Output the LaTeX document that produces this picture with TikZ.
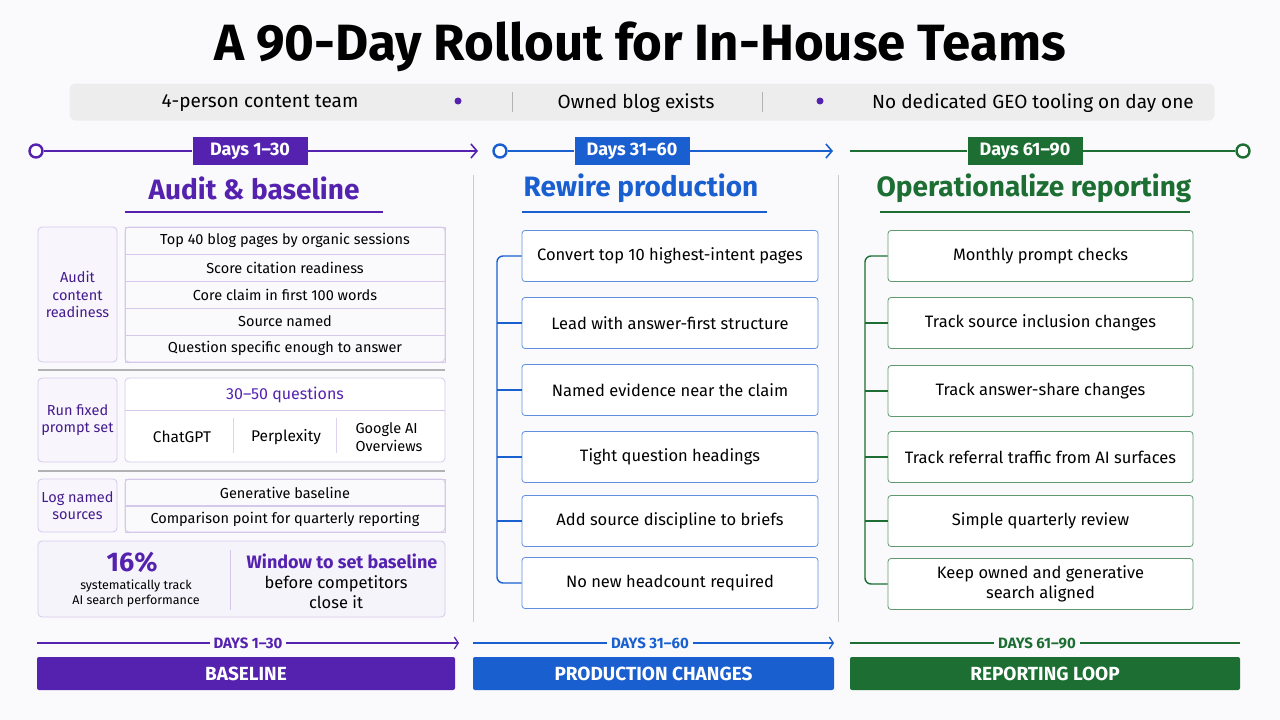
\documentclass[tikz,border=0pt]{standalone}
\usepackage{fontspec}
\setmainfont{Fira Sans}
\usetikzlibrary{arrows.meta, positioning, calc}
\definecolor{purp}{HTML}{5522B0}
\definecolor{blu}{HTML}{1A5FD0}
\definecolor{grn}{HTML}{1C6E32}
\definecolor{bgc}{HTML}{FAFAFC}
\newcommand{\fs}[1]{\fontsize{#1}{\dimexpr#1pt*6/5\relax}\selectfont}

\begin{document}
\begin{tikzpicture}[
    x=1pt, y=-1pt,
    % Styles
    phase/.style={
        rectangle, text=white, font=\fs{18}\bfseries,
        minimum width=115pt, minimum height=28pt, inner sep=0pt
    },
    heading/.style={font=\fs{28}\bfseries, inner sep=0pt},
    step/.style={
        rectangle, rounded corners=3pt, draw=#1!70, line width=0.8pt, fill=white,
        minimum height=51pt, font=\fs{16.5}, align=center, inner sep=0pt
    },
    cell/.style={
        rectangle, draw=purp!25, line width=0.8pt, minimum width=320pt,
        minimum height=27pt, font=\fs{14.5}, inner sep=0pt
    },
    side/.style={
        rectangle, rounded corners=4pt, draw=purp!25, line width=0.8pt, fill=purp!4,
        minimum width=79pt, text=purp!80!black, font=\fs{14.5}, align=center,
        inner sep=0pt
    },
    bar/.style={
        rectangle, rounded corners=2pt, text=white, font=\fs{19}\bfseries,
        minimum height=33pt, inner sep=0pt
    },
    tag/.style={font=\fs{15}\bfseries, inner sep=4pt, fill=bgc},
    arrow/.style={-{Straight Barb[length=6pt, width=14pt]}, line width=1.6pt},
    dot/.style={circle, draw=#1, line width=2.4pt, fill=white, minimum size=13pt, inner sep=0pt}
]
\useasboundingbox[fill=bgc] (0,0) rectangle (1280,720);

% === TITLE ===
\node (title) [font=\fs{51}\bfseries] at (640,47) {A 90-Day Rollout for In-House Teams};
\node (facts) [rectangle, rounded corners=6pt, fill=black!7, minimum width=1145pt,
    minimum height=37pt] at (642,102) {};
\node (f1) [font=\fs{19}] at (260,103) {4-person content team};
\node (f2) [font=\fs{19}] at (636,103) {Owned blog exists};
\node (f3) [font=\fs{19}] at (1033,103) {No dedicated GEO tooling on day one};
\foreach \x in {458, 820} \fill[purp] (\x,101) circle (3.5pt);
\foreach \x in {512, 762} \draw[black!30, line width=1pt] (\x,92) -- (\x,112);

% === TIMELINE ===
\node (d1) [dot=purp] at (36,151) {};
\node (p1) [phase, fill=purp] at (250,151) {Days 1--30};
\coordinate (e1) at (478,151);
\node (d2) [dot=blu] at (500,151) {};
\node (p2) [phase, fill=blu] at (632,151) {Days 31--60};
\coordinate (e2) at (833,151);
\coordinate (s3) at (850,151);
\node (p3) [phase, fill=grn] at (1025,151) {Days 61--90};
\node (d3) [dot=grn] at (1243,151) {};
\draw [purp, line width=1.6pt] (d1) -- (p1);
\draw [arrow, purp] (p1) -- (e1);
\draw [blu, line width=1.6pt] (d2) -- (p2);
\draw [arrow, blu] (p2) -- (e2);
\draw [grn, line width=1.6pt] (s3) -- (p3) -- (d3);

% column separators
\foreach \x in {473, 838} \draw[black!20, line width=1pt] (\x,175) -- (\x,622);

% === HEADINGS ===
\node (h1) [heading, text=purp] at (254,188) {Audit \& baseline};
\node (h2) [heading, text=blu] at (641,188) {Rewire production};
\node (h3) [heading, text=grn] at (1034,188) {Operationalize reporting};
\draw [purp, line width=1.4pt] (125,212) -- (383,212);
\draw [blu, line width=1.4pt] (522,212) -- (767,212);
\draw [grn, line width=1.4pt] (880,212) -- (1190,212);

% === COLUMN 1 ===
\node (a1) [side, minimum height=135pt] at (77.5,294.5) {Audit\\content\\readiness};
\foreach \t [count=\i] in {Top 40 blog pages by organic sessions, Score citation readiness,
    Core claim in first 100 words, Source named, Question specific enough to answer}
    \node (r\i) [cell] at (285,{227+27*(\i-0.5)}) {\t};
\draw [purp!25, line width=0.8pt, rounded corners=4pt] (125,227) rectangle (445,362);
\draw [black!30, line width=1.4pt] (38,370) -- (445,370);

\node (a2) [side, minimum height=84pt] at (77.5,420) {Run fixed\\prompt set};
\node (q0) [rectangle, rounded corners=4pt, draw=purp!25, line width=0.8pt, fill=white,
    minimum width=320pt, minimum height=84pt] at (285,420) {};
\node (q1) [font=\fs{16}, text=purp] at (285,395) {30--50 questions};
\draw [purp!25, line width=0.8pt] (125,410) -- (445,410);
\node (q2) [font=\fs{15.5}] at (182,437) {ChatGPT};
\node (q3) [font=\fs{15.5}] at (286,437) {Perplexity};
\node (q4) [font=\fs{14.5}, align=left] at (389,437) {Google AI\\Overviews};
\foreach \x in {233, 336} \draw[purp!20, line width=1pt] (\x,418) -- (\x,453);
\draw [black!30, line width=1.4pt] (38,471) -- (445,471);

\node (a3) [side, minimum height=53pt] at (77.5,505.5) {Log named\\sources};
\node (g1) [cell] at (285,492.5) {Generative baseline};
\node (g2) [cell] at (285,519) {Comparison point for quarterly reporting};
\draw [purp!25, line width=0.8pt, rounded corners=4pt] (125,479) rectangle (445,532);

\node (stat) [rectangle, rounded corners=4pt, draw=purp!25, line width=0.8pt, fill=purp!5,
    minimum width=407pt, minimum height=76pt] at (241.5,579) {};
\node (pct) [font=\fs{27}\bfseries, text=purp] at (132,562) {16\%};
\node (pctl) [font=\fs{12.5}, align=center] at (136,593) {systematically track\\AI search performance};
\draw [purp!25, line width=1pt] (230,550) -- (230,610);
\node (win) [font=\fs{18}\bfseries, text=purp] at (342,561) {Window to set baseline};
\node (winl) [font=\fs{16.5}, align=center] at (336,592) {before competitors\\close it};

% === COLUMN 2 ===
\foreach \t/\y [count=\i] in {Convert top 10 highest-intent pages/256, Lead with answer-first structure/323,
    Named evidence near the claim/390, Tight question headings/457,
    Add source discipline to briefs/521, No new headcount required/583}
    \node (b\i) [step=blu, minimum width=296pt] at (670,\y) {\t};
\coordinate (bt) at (497,256);
\coordinate (bb) at (497,583);
\draw [blu, line width=1.4pt, rounded corners=6pt] (b1.west) -- (bt) -- (bb) -- (b6.west);
\foreach \i in {2,...,5} \draw [blu, line width=1.4pt] (b\i.west) -- (b\i.west -| bt);

% === COLUMN 3 ===
\foreach \t/\y [count=\i] in {Monthly prompt checks/256, Track source inclusion changes/323,
    Track answer-share changes/391, Track referral traffic from AI surfaces/457,
    Simple quarterly review/521, {Keep owned and generative\\search aligned}/584}
    \node (c\i) [step=grn, minimum width=305pt] at (1040.5,\y) {\t};
\coordinate (ct) at (865,256);
\coordinate (cb) at (865,584);
\draw [grn, line width=1.4pt, rounded corners=6pt] (c1.west) -- (ct) -- (cb) -- (c6.west);
\foreach \i in {2,...,5} \draw [grn, line width=1.4pt] (c\i.west) -- (c\i.west -| ct);

% === BOTTOM BARS ===
\coordinate (l1) at (37,643);  \coordinate (m1) at (459,643);
\coordinate (l2) at (473,643); \coordinate (m2) at (834,643);
\coordinate (l3) at (850,643); \coordinate (m3) at (1240,643);
\draw [purp, line width=1.2pt, -{Straight Barb[length=4pt, width=12pt]}] (l1) -- (m1);
\draw [blu, line width=1.2pt, -{Straight Barb[length=4pt, width=12pt]}] (l2) -- (m2);
\draw [grn, line width=1.2pt] (l3) -- (m3);
\node (t1) [tag, text=purp] at (248,643) {DAYS 1--30};
\node (t2) [tag, text=blu] at (650,643) {DAYS 31--60};
\node (t3) [tag, text=grn] at (1037,643) {DAYS 61--90};
\node (k1) [bar, fill=purp, minimum width=418pt] at (246,673.5) {BASELINE};
\node (k2) [bar, fill=blu, minimum width=361pt] at (653.5,673.5) {PRODUCTION CHANGES};
\node (k3) [bar, fill=grn, minimum width=390pt] at (1045,673.5) {REPORTING LOOP};
\end{tikzpicture}
\end{document}
